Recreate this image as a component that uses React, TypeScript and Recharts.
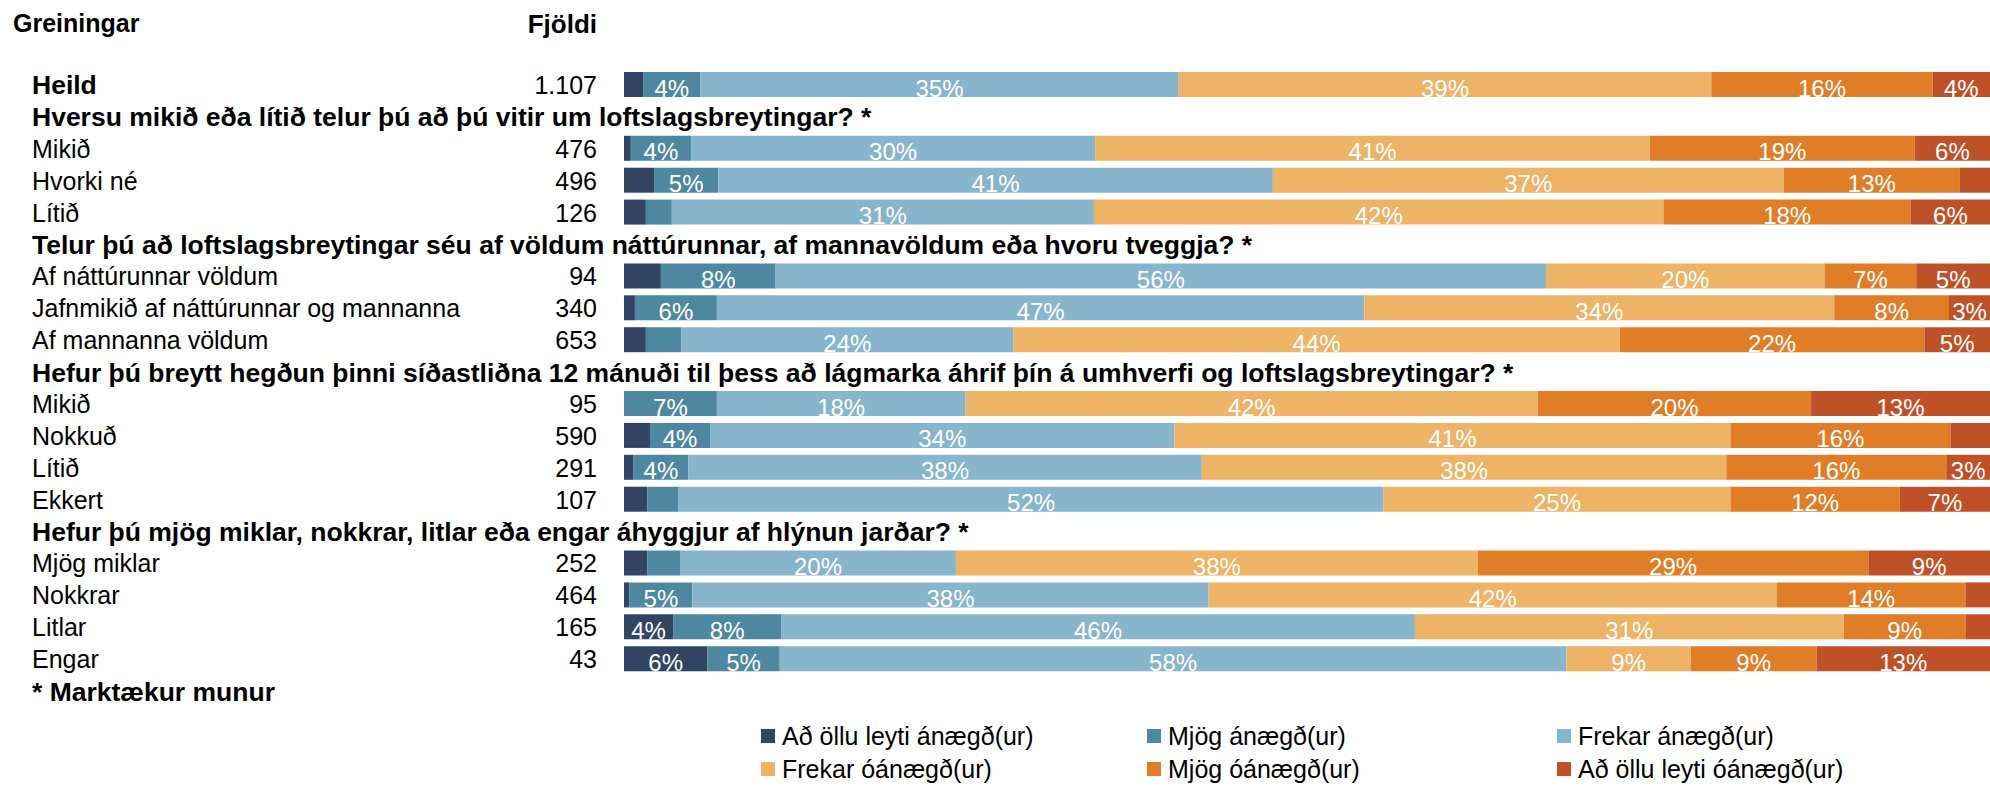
import { BarChart, Bar, XAxis, YAxis, LabelList } from "recharts";

const FONT = "'Liberation Sans', Arial, sans-serif";

// rows of the chart, top to bottom
const CATEGORIES = [
  "Heild",
  "Hversu mikið eða lítið telur þú að þú vitir um loftslagsbreytingar? *",
  "Mikið",
  "Hvorki né",
  "Lítið",
  "Telur þú að loftslagsbreytingar séu af völdum náttúrunnar, af mannavöldum eða hvoru tveggja? *",
  "Af náttúrunnar völdum",
  "Jafnmikið af náttúrunnar og mannanna",
  "Af mannanna völdum",
  "Hefur þú breytt hegðun þinni síðastliðna 12 mánuði til þess að lágmarka áhrif þín á umhverfi og loftslagsbreytingar? *",
  "Mikið",
  "Nokkuð",
  "Lítið",
  "Ekkert",
  "Hefur þú mjög miklar, nokkrar, litlar eða engar áhyggjur af hlýnun jarðar? *",
  "Mjög miklar",
  "Nokkrar",
  "Litlar",
  "Engar",
  "* Marktækur munur",
];

const ROW_KINDS = [
  "total", "head", "item", "item", "item", "head", "item", "item", "item", "head",
  "item", "item", "item", "item", "head", "item", "item", "item", "item", "note",
];

const COUNTS = [
  "1.107", "", "476", "496", "126", "", "94", "340", "653", "",
  "95", "590", "291", "107", "", "252", "464", "165", "43", "",
];

// percentages per answer option
const ALLS_ANAEGD = [1.4, null, 0.5, 2.2, 1.6, null, 2.7, 0.8, 1.6, null, 0, 1.9, 0.7, 1.7, null, 1.7, 0.4, 3.6, 6.1, null];
const MJOG_ANAEGD = [4.2, null, 4.4, 4.7, 1.9, null, 8.4, 6.0, 2.6, null, 6.8, 4.4, 4.0, 2.3, null, 2.4, 4.6, 7.9, 5.3, null];
const FREKAR_ANAEGD = [35.0, null, 29.6, 40.6, 30.9, null, 56.4, 47.4, 24.3, null, 18.2, 34.0, 37.6, 51.6, null, 20.2, 37.8, 46.4, 57.6, null];
const FREKAR_OANAEGD = [39.0, null, 40.6, 37.4, 41.7, null, 20.4, 34.4, 44.4, null, 41.9, 40.7, 38.4, 25.4, null, 38.2, 41.6, 31.4, 9.1, null];
const MJOG_OANAEGD = [16.2, null, 19.4, 12.9, 18.1, null, 6.7, 8.4, 22.3, null, 20.0, 16.1, 16.1, 12.4, null, 28.6, 13.8, 8.9, 9.2, null];
const ALLS_OANAEGD = [4.2, null, 5.5, 2.2, 5.8, null, 5.4, 3.0, 4.8, null, 13.1, 2.9, 3.2, 6.6, null, 8.9, 1.8, 1.8, 12.7, null];

const SERIES = [
  { key: "s1", name: "Að öllu leyti ánægð(ur)", color: "#324563", values: ALLS_ANAEGD },
  { key: "s2", name: "Mjög ánægð(ur)", color: "#4e87a0", values: MJOG_ANAEGD },
  { key: "s3", name: "Frekar ánægð(ur)", color: "#87b5cc", values: FREKAR_ANAEGD },
  { key: "s4", name: "Frekar óánægð(ur)", color: "#edb367", values: FREKAR_OANAEGD },
  { key: "s5", name: "Mjög óánægð(ur)", color: "#e07e28", values: MJOG_OANAEGD },
  { key: "s6", name: "Að öllu leyti óánægð(ur)", color: "#bf5128", values: ALLS_OANAEGD },
];

const data = CATEGORIES.map((name, i) => {
  const row: Record<string, any> = { name, idx: i };
  SERIES.forEach((s) => (row[s.key] = s.values[i]));
  return row;
});

function RowTick(props: any) {
  const { y, payload } = props;
  const i = payload.index ?? props.index;
  const bold = ROW_KINDS[i] !== "item";
  return (
    <g>
      <text
        x={32}
        y={y}
        dy="0.36em"
        fontSize={bold ? 26.5 : 25}
        fontWeight={bold ? 700 : 400}
        fill="#000"
        fontFamily={FONT}
      >
        {payload.value}
      </text>
      {COUNTS[i] && (
        <text x={597} y={y} dy="0.36em" fontSize={25} textAnchor="end" fill="#000" fontFamily={FONT}>
          {COUNTS[i]}
        </text>
      )}
    </g>
  );
}

function SegmentLabel(props: any) {
  const { value } = props;
  if (value == null || value < 3) return null;
  const x = Number(props.x), y = Number(props.y), w = Number(props.width), h = Number(props.height);
  return (
    <text x={x + w / 2} y={y + h - 0.5} textAnchor="middle" fill="#fff" fontSize={24} fontFamily={FONT}>
      {Math.round(value)}%
    </text>
  );
}

const LEGEND_X = [761, 1147, 1557];
const LEGEND_Y = [736, 769];

function ChartLegend() {
  return (
    <>
      {SERIES.map((s, i) => {
        const x = LEGEND_X[i % 3];
        const y = LEGEND_Y[Math.floor(i / 3)];
        return (
          <div key={s.key} style={{ position: "absolute", left: x, top: y - 15, height: 30, display: "flex", alignItems: "center" }}>
            <span style={{ width: 14, height: 14, background: s.color, display: "inline-block", marginRight: 7 }} />
            <span style={{ fontFamily: FONT, fontSize: 25, color: "#000", whiteSpace: "nowrap" }}>{s.name}</span>
          </div>
        );
      })}
    </>
  );
}

export default function App() {
  return (
    <div style={{ position: "absolute", left: 0, top: 0, width: 1990, height: 787, background: "#fff" }}>
      <div style={{ position: "absolute", left: 13, top: 11, fontFamily: FONT, fontSize: 25, fontWeight: 700, lineHeight: 1 }}>
        Greiningar
      </div>
      <div style={{ position: "absolute", left: 0, width: 597, textAlign: "right", top: 11, fontFamily: FONT, fontSize: 26, fontWeight: 700, lineHeight: 1 }}>
        Fjöldi
      </div>
      <BarChart
        layout="vertical"
        width={1990}
        height={787}
        data={data}
        margin={{ top: 69, right: 0, bottom: 80, left: 0 }}
        barSize={25}
      >
        <XAxis type="number" domain={[0, 100]} hide />
        <YAxis
          type="category"
          dataKey="name"
          width={624}
          axisLine={false}
          tickLine={false}
          interval={0}
          tick={<RowTick />}
        />
        {SERIES.map((s) => (
          <Bar key={s.key} dataKey={s.key} name={s.name} stackId="a" fill={s.color} isAnimationActive={false}>
            <LabelList dataKey={s.key} content={<SegmentLabel />} />
          </Bar>
        ))}
      </BarChart>
      <ChartLegend />
    </div>
  );
}
